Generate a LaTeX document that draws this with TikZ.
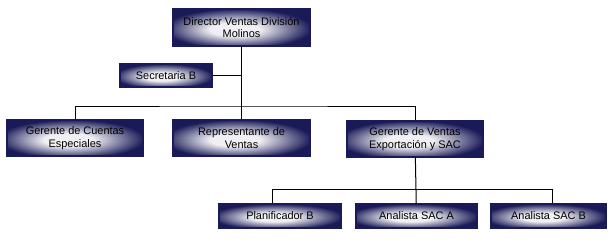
\documentclass[tikz,border=0pt]{standalone}
\usepackage{fontspec}
\setmainfont{Liberation Sans}
\usepackage{xcolor}
\definecolor{boxnavy}{RGB}{26,26,88}
\definecolor{boxlight}{RGB}{240,240,244}
\pgfdeclareradialshading{boxglow}{\pgfpoint{-3bp}{-3bp}}{%
    color(0bp)=(boxlight); color(9bp)=(boxlight);
    color(19bp)=(boxnavy!55!boxlight); color(27bp)=(boxnavy); color(50bp)=(boxnavy)}

\begin{document}
\begin{tikzpicture}[
    x=0.75pt, y=-0.75pt,
    every node/.style={rectangle, draw=boxnavy, line width=0.9pt, shading=boxglow,
        inner sep=0pt, align=center, font=\fontsize{8.2}{9.4}\selectfont},
    edge/.style={line width=0.75pt}
]
    \useasboundingbox (0,0) rectangle (614,243);

    % top
    \node[minimum width=102.75pt, minimum height=27.75pt] (dir) at (241.5,27.5) {Director Ventas División\\Molinos};
    \node[minimum width=69pt, minimum height=17.25pt] (sec) at (166,75.5) {Secretaria B};

    % second level
    \node[minimum width=102pt, minimum height=27pt] (gcu) at (75,138) {Gerente de Cuentas\\Especiales};
    \node[minimum width=102.75pt, minimum height=27pt] (rep) at (241.5,138) {Representante de\\Ventas};
    \node[minimum width=102pt, minimum height=27pt] (gve) at (415,139) {Gerente de Ventas\\Exportación y SAC};

    % third level
    \node[minimum width=91.5pt, minimum height=18pt] (pla) at (280,216) {Planificador B};
    \node[minimum width=90.75pt, minimum height=18pt] (saa) at (416.5,216) {Analista SAC A};
    \node[minimum width=86.25pt, minimum height=18pt] (sab) at (548.5,216) {Analista SAC B};

    \coordinate (b2) at (241.5,106);
    \coordinate (b3l) at (272,189);
    \coordinate (b3r) at (552,189);

    \draw[edge] (dir) -- (rep);
    \draw[edge] (sec) -- (sec -| dir);
    \draw[edge] (gcu.north) |- (b2) -| (gve.north);
    \draw[edge] (gve) -- (saa);
    \draw[edge] (b3l |- pla.north) |- (b3r) -- (b3r |- sab.north);
\end{tikzpicture}
\end{document}
